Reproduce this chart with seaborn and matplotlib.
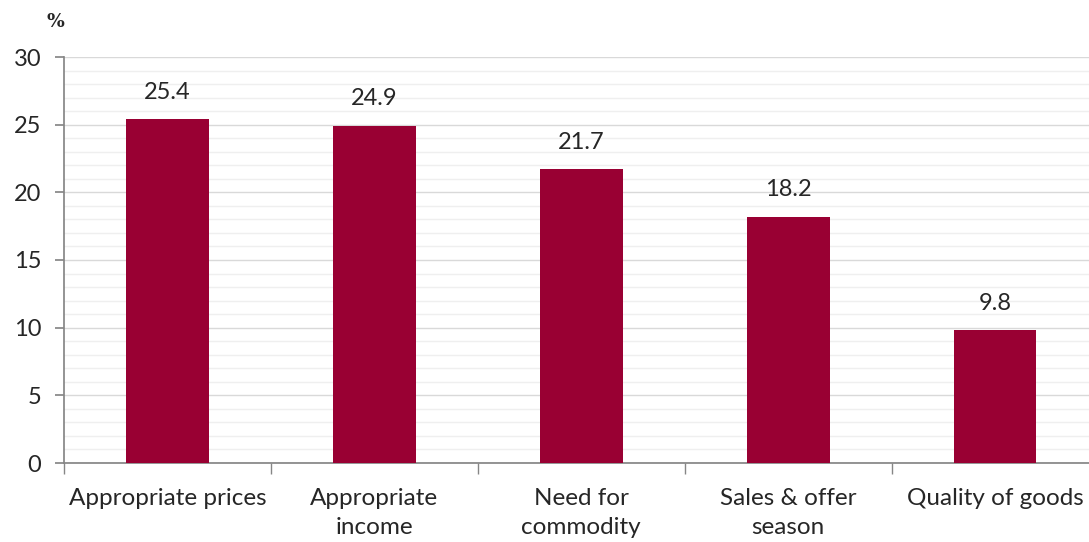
import matplotlib.pyplot as plt
import seaborn as sns
import pandas as pd
from matplotlib.ticker import MultipleLocator, FixedLocator

# data
reasons = ["Appropriate prices", "Appropriate\nincome", "Need for\ncommodity",
           "Sales & offer\nseason", "Quality of goods"]
shares = [25.4, 24.9, 21.7, 18.2, 9.8]

df = pd.DataFrame({"reason": reasons, "share": shares})

sns.set_theme(style="white")
plt.rcParams['font.family'] = ['Lato', 'DejaVu Sans']

fig = plt.figure(figsize=(10.89, 5.42), dpi=100)
ax = fig.add_axes([64 / 1089, 79 / 542, 1025 / 1089, 406 / 542])

sns.barplot(data=df, x="reason", y="share", color="#990033", width=0.4,
            saturation=1, linewidth=0, ax=ax, zorder=3)

ax.set_ylim(0, 30)
ax.set_xlim(-0.5, 4.5 - 9.5 / 207)
ax.yaxis.set_major_locator(MultipleLocator(5))
ax.yaxis.set_minor_locator(MultipleLocator(1))
ax.grid(axis='y', which='major', color='#d9d9d9', lw=1, zorder=0)
ax.grid(axis='y', which='minor', color='#efefef', lw=1, zorder=0)

for s in ['top', 'right']:
    ax.spines[s].set_visible(False)
ax.spines['left'].set_color('#868686')
ax.spines['bottom'].set_color('#868686')

ax.tick_params(axis='y', which='major', left=True, length=6.5, color='#868686',
               labelsize=17, pad=10)
ax.tick_params(axis='y', which='minor', left=False)
ax.tick_params(axis='x', which='major', bottom=False, labelsize=17.5, pad=12)
for lbl in ax.get_xticklabels():
    lbl.set_linespacing(1.45)
ax.xaxis.set_minor_locator(FixedLocator([-0.5, 0.5, 1.5, 2.5, 3.5]))
ax.tick_params(axis='x', which='minor', bottom=True, length=8, color='#868686')
ax.set_xlabel("")
ax.set_ylabel("")

ax.bar_label(ax.containers[0], fmt="%.1f", padding=12, fontsize=17)

fig.text(55 / 1089, 1 - 22 / 542, "%", fontsize=13.5, fontweight='bold',
         family='DejaVu Serif', ha='center', va='center')

fig.savefig("out.png", dpi=100)
